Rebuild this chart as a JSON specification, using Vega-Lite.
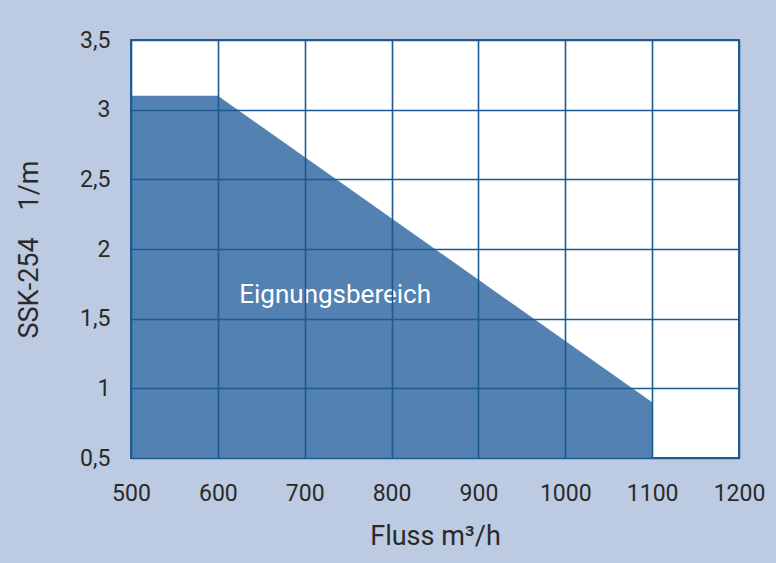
{
  "$schema": "https://vega.github.io/schema/vega-lite/v6.json",
  "width": 608,
  "height": 418,
  "autosize": {"type": "none"},
  "padding": {"left": 131, "top": 40, "right": 37, "bottom": 105},
  "background": "#bccbe2",
  "config": {
    "view": {"fill": "white", "stroke": "#1f5d96", "strokeWidth": 2},
    "font": "Roboto",
    "axis": {
      "labelFont": "Roboto",
      "titleFont": "Roboto",
      "labelFontSize": 23,
      "titleFontSize": 27,
      "labelColor": "#2a2a2a",
      "titleColor": "#2a2a2a",
      "titleFontWeight": "normal",
      "gridColor": "#1c5a94",
      "gridOpacity": 1,
      "gridWidth": 1.6,
      "domain": false,
      "ticks": false,
      "labelFlush": false
    }
  },
  "datasets": {
    "area": [
      {"flow": 500, "ssk": 3.1},
      {"flow": 600, "ssk": 3.1},
      {"flow": 1100, "ssk": 0.9}
    ],
    "label": [
      {"flow": 735, "ssk": 1.67, "text": "Eignungsbereich"}
    ]
  },
  "layer": [
    {
      "data": {"name": "area"},
      "mark": {"type": "area", "color": "#5281b2", "opacity": 1, "clip": true},
      "encoding": {
        "x": {
          "field": "flow", "type": "quantitative",
          "scale": {"domain": [500, 1200], "nice": false},
          "axis": {"values": [500, 600, 700, 800, 900, 1000, 1100, 1200], "format": "d", "title": "Fluss m³/h", "labelPadding": 24, "titlePadding": 18, "zindex": 1}
        },
        "y": {
          "field": "ssk", "type": "quantitative",
          "scale": {"domain": [0.5, 3.5], "nice": false, "zero": false},
          "axis": {"values": [0.5, 1, 1.5, 2, 2.5, 3, 3.5], "title": "SSK-254\u00a0\u00a0\u00a0\u00a01/m", "labelPadding": 21, "titlePadding": 36, "zindex": 1,
                   "labelExpr": "replace(toString(datum.value), '.', ',')"}
        },
        "y2": {"datum": 0.5}
      }
    },
    {
      "data": {"name": "label"},
      "mark": {"type": "text", "color": "white", "fontSize": 26, "font": "Roboto", "zindex": 2},
      "encoding": {
        "x": {"field": "flow", "type": "quantitative"},
        "y": {"field": "ssk", "type": "quantitative"},
        "text": {"field": "text"}
      }
    }
  ]
}
